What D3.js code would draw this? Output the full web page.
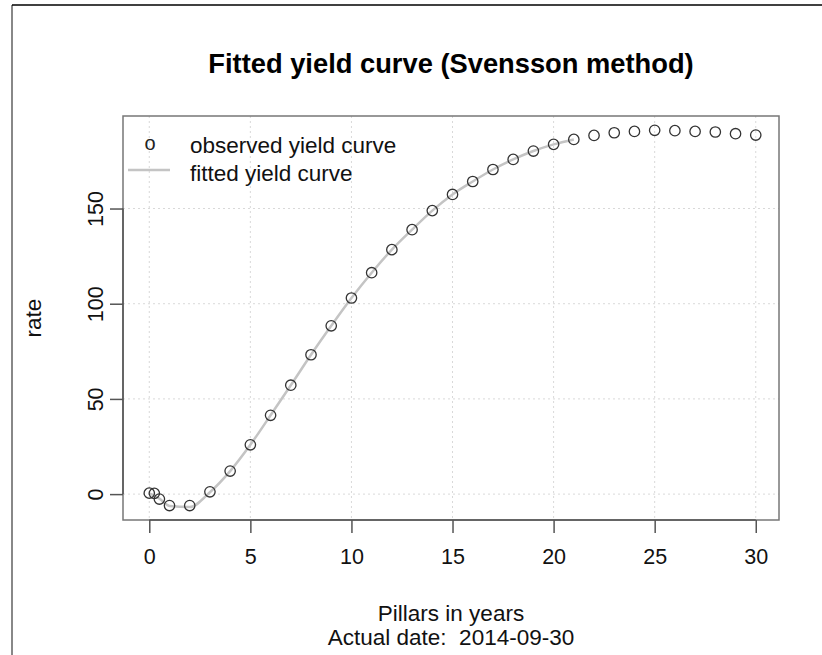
<!DOCTYPE html>
<html>
<head>
<meta charset="utf-8">
<script src="https://cdn.jsdelivr.net/npm/d3@7"></script>
<style>
  html, body { margin: 0; padding: 0; background: #fff; }
  svg { display: block; font-family: "Liberation Sans", Arial, Helvetica, sans-serif; }
  text { white-space: pre; }
</style>
</head>
<body>
<svg id="chart" width="822" height="655"></svg>
<script>
// ---- data ----
const pillars = [0, 0.25, 0.5, 1, 2, 3, 4, 5, 6, 7, 8, 9, 10, 11, 12, 13, 14, 15, 16, 17, 18, 19, 20, 21, 22, 23, 24, 25, 26, 27, 28, 29, 30];
const observed = [0.5, 0.4, -2.6, -6.0, -6.0, 1.2, 12.1, 25.9, 41.4, 57.2, 73.2, 88.4, 103.0, 116.3, 128.4, 138.9, 148.9, 157.4, 164.2, 170.5, 175.8, 180.2, 183.7, 186.3, 188.4, 189.8, 190.5, 191.1, 190.9, 190.5, 190.2, 189.3, 188.6];
const fittedPillars = [0, 0.25, 0.5, 1, 2, 3, 4, 5, 6, 7, 8, 9, 10, 11, 12, 13, 14, 15, 16, 17, 18, 19, 20, 21];
const fitted = [0.3, -0.8, -2.4, -6.2, -6.8, 1.0, 12.1, 25.9, 41.4, 57.2, 73.2, 88.4, 103.0, 116.3, 128.4, 138.9, 148.9, 157.4, 164.2, 170.5, 175.8, 180.2, 183.7, 186.3];
const xTicks = [0, 5, 10, 15, 20, 25, 30];
const yTicks = [0, 50, 100, 150];
const titleText = "Fitted yield curve (Svensson method)";
const xLabel = "Pillars in years";
const subLabel = "Actual date:  2014-09-30";
const yLabel = "rate";
const legendLabels = ["observed yield curve", "fitted yield curve"];

// ---- layout ----
const box = { left: 123, right: 779, top: 116, bottom: 520 };
const svg = d3.select("#chart");

// page frame (screenshot border)
svg.append("line").attr("x1", 12).attr("x2", 12).attr("y1", 5).attr("y2", 655)
  .attr("stroke", "#888").attr("stroke-width", 2);
svg.append("line").attr("x1", 12).attr("x2", 822).attr("y1", 5).attr("y2", 5)
  .attr("stroke", "#000").attr("stroke-width", 1.5);

const x = d3.scaleLinear().domain([-1.3, 31.15]).range([box.left, box.right]);
const y = d3.scaleLinear().domain([-13.6, 198.6]).range([box.bottom, box.top]);

// grid
const grid = svg.append("g").attr("stroke", "#d9d9d9").attr("stroke-width", 1).attr("stroke-dasharray", "2,3");
grid.selectAll("line.gx").data(xTicks).join("line")
  .attr("x1", d => x(d)).attr("x2", d => x(d)).attr("y1", box.top).attr("y2", box.bottom);
grid.selectAll("line.gy").data(yTicks).join("line")
  .attr("x1", box.left).attr("x2", box.right).attr("y1", d => y(d)).attr("y2", d => y(d));

// fitted line
svg.append("path")
  .datum(fittedPillars.map((p, i) => [p, fitted[i]]))
  .attr("fill", "none").attr("stroke", "#c4c4c4").attr("stroke-width", 2.5)
  .attr("d", d3.line().x(d => x(d[0])).y(d => y(d[1])).curve(d3.curveMonotoneX));

// observed points
svg.append("g").selectAll("circle").data(pillars.map((p, i) => [p, observed[i]])).join("circle")
  .attr("cx", d => x(d[0])).attr("cy", d => y(d[1])).attr("r", 5.2)
  .attr("fill", "none").attr("stroke", "#333").attr("stroke-width", 1.3);

// box
svg.append("rect").attr("x", box.left).attr("y", box.top)
  .attr("width", box.right - box.left).attr("height", box.bottom - box.top)
  .attr("fill", "none").attr("stroke", "#777").attr("stroke-width", 1.5);

const FONT = "Liberation Sans, Arial, sans-serif";

// x axis
const xAxis = d3.axisBottom(x).tickValues(xTicks).tickSize(13).tickPadding(16).tickFormat(d3.format("d"));
const gx = svg.append("g").attr("transform", `translate(0,${box.bottom})`).call(xAxis);
gx.select(".domain").attr("stroke", "#555").attr("stroke-width", 1.5)
  .attr("d", `M${x(0)},0H${x(30)}`);
gx.selectAll(".tick line").attr("stroke", "#555").attr("stroke-width", 1.5);
gx.selectAll(".tick text").attr("font-size", 21.5).attr("fill", "#111")
  .attr("font-family", FONT);

// y axis
const yAxis = d3.axisLeft(y).tickValues(yTicks).tickSize(13).tickPadding(0).tickFormat(d3.format("d"));
const gy = svg.append("g").attr("transform", `translate(${box.left},0)`).call(yAxis);
gy.select(".domain").attr("stroke", "#555").attr("stroke-width", 1.5)
  .attr("d", `M0,${y(0)}V${y(150)}`);
gy.selectAll(".tick line").attr("stroke", "#555").attr("stroke-width", 1.5);
gy.selectAll(".tick text")
  .attr("font-size", 21.5).attr("fill", "#111")
  .attr("font-family", FONT)
  .attr("x", 0).attr("dy", null).attr("text-anchor", "middle")
  .attr("transform", "translate(-20,0) rotate(-90)");

// title and labels
svg.append("text").attr("x", (box.left + box.right) / 2).attr("y", 73)
  .attr("text-anchor", "middle").attr("font-size", 27.3).attr("font-weight", "bold").attr("fill", "#000")
  .text(titleText);
svg.append("text").attr("x", (box.left + box.right) / 2).attr("y", 621)
  .attr("text-anchor", "middle").attr("font-size", 22.5).attr("fill", "#111").text(xLabel);
svg.append("text").attr("x", (box.left + box.right) / 2).attr("y", 645)
  .attr("text-anchor", "middle").attr("font-size", 22.5).attr("fill", "#111").text(subLabel);
svg.append("text").attr("transform", `translate(41,${(box.top + box.bottom) / 2}) rotate(-90)`)
  .attr("text-anchor", "middle").attr("font-size", 22.5).attr("fill", "#111").text(yLabel);

// legend
const lg = svg.append("g");
lg.append("text").attr("x", 150).attr("y", 150).attr("text-anchor", "middle")
  .attr("font-size", 20).attr("fill", "#222").text("o");
lg.append("line").attr("x1", 128).attr("x2", 170).attr("y1", 170).attr("y2", 170)
  .attr("stroke", "#c4c4c4").attr("stroke-width", 2.5);
lg.selectAll("text.lab").data(legendLabels).join("text").attr("class", "lab")
  .attr("x", 190).attr("y", (d, i) => 153 + i * 28)
  .attr("font-size", 22.5).attr("fill", "#111").text(d => d);
</script>
</body>
</html>
